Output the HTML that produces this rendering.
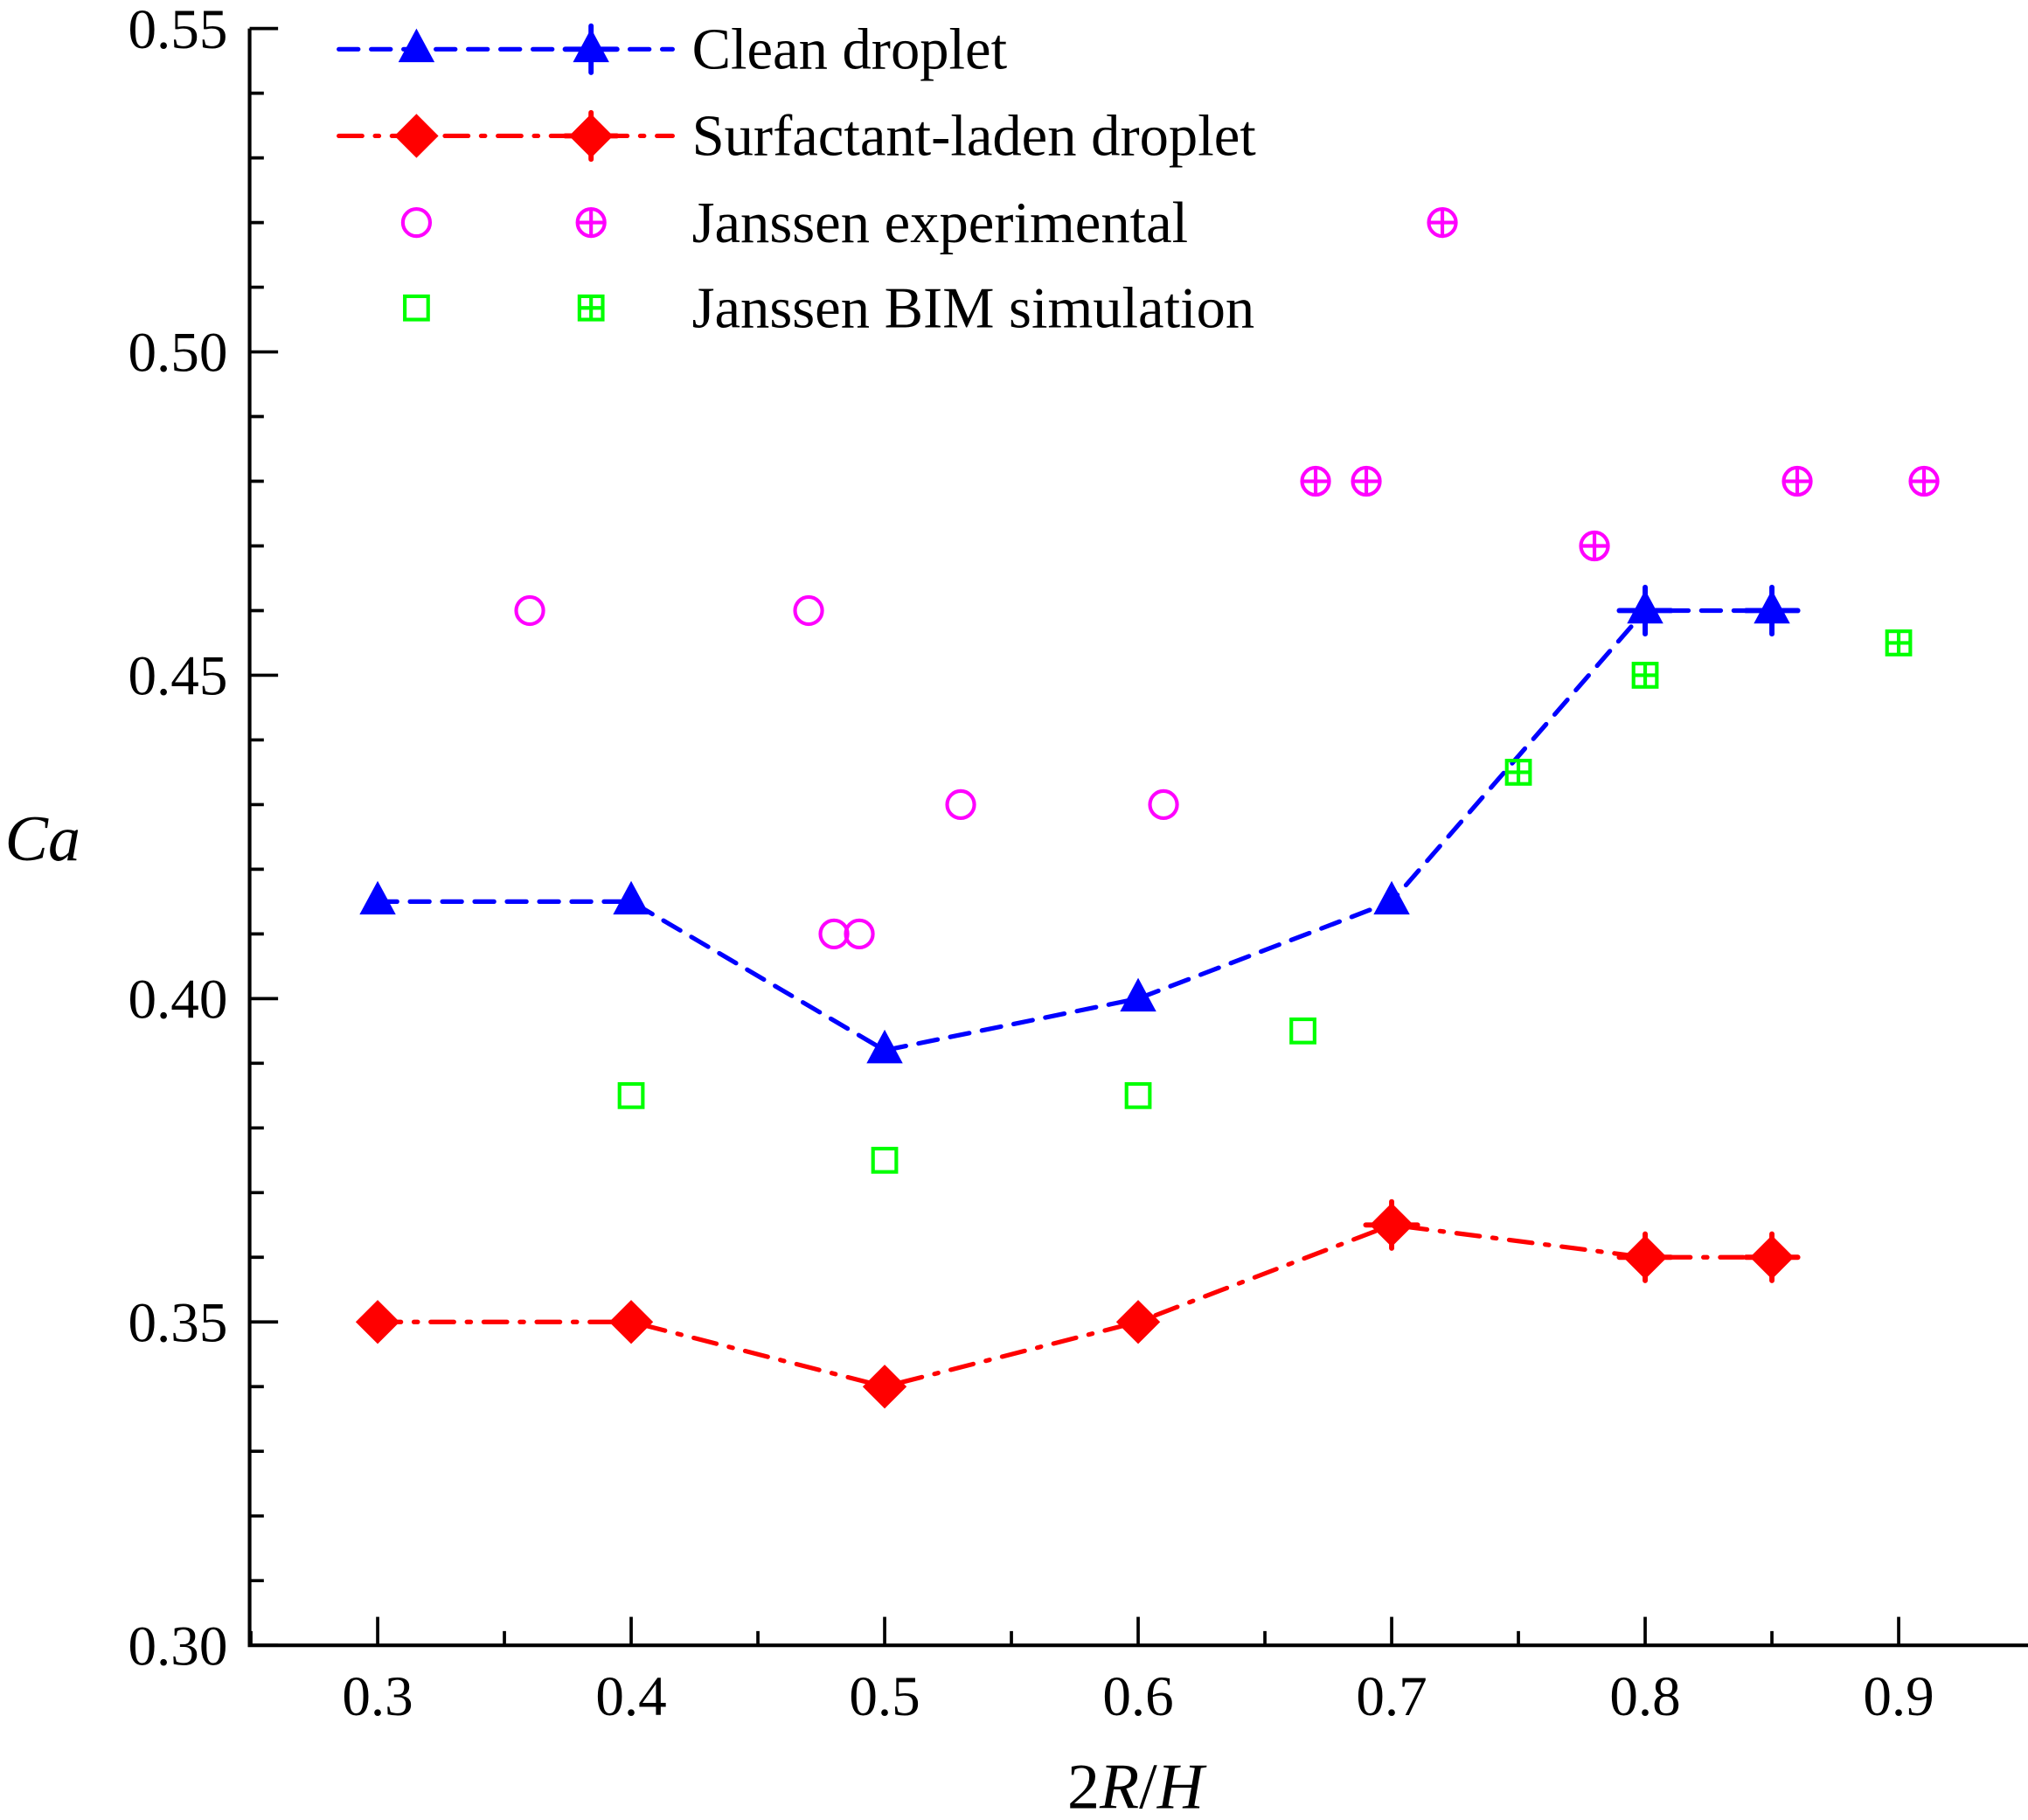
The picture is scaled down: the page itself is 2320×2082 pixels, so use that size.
<!DOCTYPE html>
<html><head><meta charset="utf-8"><style>
html,body{margin:0;padding:0;background:#fff;width:2320px;height:2082px;overflow:hidden}
svg text{font-family:"Liberation Serif",serif;fill:#000}
</style></head><body>
<svg id="chart" width="2320" height="2082" viewBox="0 0 1568 1407" xmlns="http://www.w3.org/2000/svg"></svg>
<script>
const cleanX=[0.3,0.4,0.5,0.6,0.7,0.8,0.85];
const cleanY=[0.415,0.415,0.392,0.4,0.415,0.46,0.46];
const cleanErr=[0,0,0,0,0,1,1];
const surfX=[0.3,0.4,0.5,0.6,0.7,0.8,0.85];
const surfY=[0.35,0.35,0.34,0.35,0.365,0.36,0.36];
const surfErr=[0,0,0,0,1,1,1];
const expX=[0.36,0.47,0.53,0.61,0.48,0.49];
const expY=[0.46,0.46,0.43,0.43,0.41,0.41];
const expPX=[0.67,0.69,0.72,0.78,0.86,0.91];
const expPY=[0.48,0.48,0.52,0.47,0.48,0.48];
const bimX=[0.4,0.5,0.6,0.665];
const bimY=[0.385,0.375,0.385,0.395];
const bimPX=[0.75,0.8,0.9];
const bimPY=[0.435,0.45,0.455];
const yTicks=["0.30","0.35","0.40","0.45","0.50","0.55"];
const xTicks=["0.3","0.4","0.5","0.6","0.7","0.8","0.9"];

const NS="http://www.w3.org/2000/svg";
const svg=document.getElementById('chart');
const X=v=>292+(v-0.3)*1960;
const Y=v=>1272-(v-0.3)*5000;
function el(tag,attrs,parent){const e=document.createElementNS(NS,tag);for(const k in attrs)e.setAttribute(k,attrs[k]);(parent||svg).appendChild(e);return e;}

const ax=el('path',{d:`M193,22 V1272 H1568`,stroke:'#000','stroke-width':2.8,fill:'none'});


for(let i=0;i<=25;i++){const v=0.3+i*0.01;const major=i%5===0;
 el('line',{x1:193,x2:193+(major?22:11),y1:Y(v),y2:Y(v),stroke:'#000','stroke-width':2.5});}
yTicks.forEach(t=>{const tx=el('text',{x:176,y:Y(+t)+15,'text-anchor':'end','font-size':44});tx.textContent=t;
 
 });
for(let i=0;i<=13;i++){const v=0.25+i*0.05;const major=i%2===1;
 el('line',{x1:X(v),x2:X(v),y1:1272,y2:1272-(major?22:11),stroke:'#000','stroke-width':2.5});}
xTicks.forEach(t=>{const tx=el('text',{x:X(+t),y:1326,'text-anchor':'middle','font-size':44});tx.textContent=t;
 
 });
const yl=el('text',{x:33,y:665,'text-anchor':'middle','font-size':50,'font-style':'italic'});yl.textContent='Ca';


const xl=el('text',{x:878,y:1398,'text-anchor':'middle','font-size':50});
xl.innerHTML='2<tspan font-style="italic">R</tspan>/<tspan font-style="italic">H</tspan>';



function tri(x,y,c,g){el('polygon',{points:`${x},${y-16} ${x-14},${y+10} ${x+14},${y+10}`,fill:c},g);}
function dia(x,y,c,g){el('polygon',{points:`${x},${y-17} ${x+17},${y} ${x},${y+17} ${x-17},${y}`,fill:c},g);}
function cross(x,y,c,g){el('path',{d:`M${x-20},${y} H${x+20} M${x},${y-18} V${y+18}`,stroke:c,'stroke-width':4,'stroke-linecap':'round'},g);}
function circ(x,y,g,plus){el('circle',{cx:x,cy:y,r:10.5,fill:'none',stroke:'#f0f','stroke-width':2.8},g);
 if(plus)el('path',{d:`M${x-10.5},${y} H${x+10.5} M${x},${y-10.5} V${y+10.5}`,stroke:'#f0f','stroke-width':2.8},g);}
function sq(x,y,g,plus){el('rect',{x:x-9,y:y-9,width:18,height:18,fill:'none',stroke:'#0f0','stroke-width':2.8},g);
 if(plus)el('path',{d:`M${x-9},${y} H${x+9} M${x},${y-9} V${y+9}`,stroke:'#0f0','stroke-width':2.8},g);}

let g=el('g',{});


el('polyline',{points:cleanX.map((x,i)=>X(x)+','+Y(cleanY[i])).join(' '),fill:'none',stroke:'#00f','stroke-width':3.5,'stroke-dasharray':'15 10','stroke-linecap':'round'},g);
cleanX.forEach((x,i)=>{tri(X(x),Y(cleanY[i]),'#00f',g);if(cleanErr[i])cross(X(x),Y(cleanY[i]),'#00f',g);});
g=el('g',{});


el('polyline',{points:surfX.map((x,i)=>X(x)+','+Y(surfY[i])).join(' '),fill:'none',stroke:'#f00','stroke-width':3.5,'stroke-dasharray':'18 10 3 10','stroke-linecap':'round'},g);
surfX.forEach((x,i)=>{dia(X(x),Y(surfY[i]),'#f00',g);if(surfErr[i])cross(X(x),Y(surfY[i]),'#f00',g);});
g=el('g',{});


expX.forEach((x,i)=>circ(X(x),Y(expY[i]),g,false));
expPX.forEach((x,i)=>circ(X(x),Y(expPY[i]),g,true));
g=el('g',{});


bimX.forEach((x,i)=>sq(X(x),Y(bimY[i]),g,false));
bimPX.forEach((x,i)=>sq(X(x),Y(bimPY[i]),g,true));

const lg=el('g',{});


const labels=['Clean droplet','Surfactant-laden droplet','Janssen experimental','Janssen BIM simulation'];
const ly=[38,105,172,238];
el('line',{x1:262,x2:520,y1:38,y2:38,stroke:'#00f','stroke-width':3.5,'stroke-dasharray':'15 10','stroke-linecap':'round'},lg);
tri(322,38,'#00f',lg);tri(457,38,'#00f',lg);cross(457,38,'#00f',lg);
el('line',{x1:262,x2:520,y1:105,y2:105,stroke:'#f00','stroke-width':3.5,'stroke-dasharray':'18 10 3 10','stroke-linecap':'round'},lg);
dia(322,105,'#f00',lg);dia(457,105,'#f00',lg);cross(457,105,'#f00',lg);
circ(322,172,lg,false);circ(457,172,lg,true);
sq(322,238,lg,false);sq(457,238,lg,true);
labels.forEach((t,i)=>{const tx=el('text',{x:535,y:ly[i]+15,'font-size':45},lg);tx.textContent=t;
 
 });
</script>
</body></html>
